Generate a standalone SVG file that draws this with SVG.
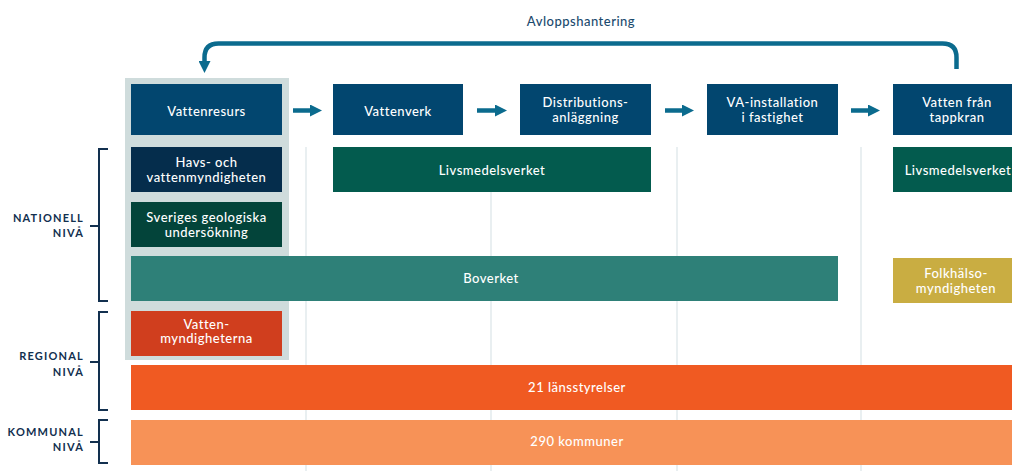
<svg xmlns="http://www.w3.org/2000/svg" width="1012" height="471" viewBox="0 0 1012 471">
<defs>
<marker id="ah" markerUnits="userSpaceOnUse" markerWidth="12" markerHeight="12" refX="0" refY="6" orient="auto" viewBox="0 0 12 12">
<path d="M0,0 L12,6 L0,12 Z" fill="#0b6b8e"/>
</marker>
</defs>
<style>
.t{font-family:Lato,"Noto Sans",sans-serif;font-size:13px;font-weight:500;fill:#ffffff;text-anchor:middle;letter-spacing:0.5px}
.lv{font-family:Lato,"Noto Sans",sans-serif;font-size:11px;font-weight:700;fill:#12304f;text-anchor:end;letter-spacing:1.2px}
.grid{stroke:#d3dfe3;stroke-width:1}
.br{fill:none;stroke:#12304f;stroke-width:2}
.flow{fill:#02466f}
.ar{stroke:#0b6b8e;stroke-width:4.5;fill:none}
</style>
<rect width="1012" height="471" fill="#ffffff"/>
<g id="grid">
<line class="grid" x1="306" y1="147" x2="306" y2="471"/>
<line class="grid" x1="491" y1="147" x2="491" y2="471"/>
<line class="grid" x1="677" y1="147" x2="677" y2="471"/>
<line class="grid" x1="861" y1="147" x2="861" y2="471"/>
</g>
<g id="panel"><rect x="125" y="78" width="164" height="282" fill="#cfdcdc"/></g>
<g id="avlopp-label"><text x="581" y="26" font-family="Lato,'Noto Sans',sans-serif" font-size="13" font-weight="500" fill="#1b4a6e" text-anchor="middle" letter-spacing="0.5">Avloppshantering</text></g>
<g id="connectors">
<path class="ar" d="M956.5,69 V57.5 Q956.5,43.5 942.5,43.5 H218.5 Q204.5,43.5 204.5,57.5 V61" marker-end="url(#ah)"/>
<line class="ar" x1="293" y1="110.5" x2="310" y2="110.5" marker-end="url(#ah)"/>
<line class="ar" x1="477" y1="110.5" x2="495" y2="110.5" marker-end="url(#ah)"/>
<line class="ar" x1="665" y1="110.5" x2="682" y2="110.5" marker-end="url(#ah)"/>
<line class="ar" x1="851" y1="110.5" x2="868" y2="110.5" marker-end="url(#ah)"/>
</g>
<g id="vattenresurs"><rect class="flow" x="131" y="84" width="151" height="51"/><text class="t" x="206.5" y="116">Vattenresurs</text></g>
<g id="vattenverk"><rect class="flow" x="333" y="84" width="130" height="51"/><text class="t" x="398" y="116">Vattenverk</text></g>
<g id="distribution"><rect class="flow" x="520" y="84" width="131" height="51"/><text class="t" x="585.5" y="107">Distributions-</text><text class="t" x="585.5" y="122">anläggning</text></g>
<g id="va-installation"><rect class="flow" x="707" y="84" width="131" height="51"/><text class="t" x="772.5" y="107">VA-installation</text><text class="t" x="772.5" y="122">i fastighet</text></g>
<g id="tappkran"><rect class="flow" x="893" y="84" width="130" height="51"/><text class="t" x="957" y="107">Vatten från</text><text class="t" x="957" y="122">tappkran</text></g>
<g id="havs"><rect x="131" y="147" width="151" height="45" fill="#052d4c"/><text class="t" x="206.5" y="167">Havs- och</text><text class="t" x="206.5" y="181.5">vattenmyndigheten</text></g>
<g id="livsmedel1"><rect x="333" y="147" width="318" height="45" fill="#035b4e"/><text class="t" x="492" y="174.5">Livsmedelsverket</text></g>
<g id="livsmedel2"><rect x="893" y="147" width="130" height="45" fill="#035b4e"/><text class="t" x="958" y="174.5">Livsmedelsverket</text></g>
<g id="sgu"><rect x="131" y="202" width="151" height="45" fill="#03443a"/><text class="t" x="206.5" y="222">Sveriges geologiska</text><text class="t" x="206.5" y="236.5">undersökning</text></g>
<g id="boverket"><rect x="131" y="256" width="707" height="45" fill="#2e8078"/><text class="t" x="491" y="283">Boverket</text></g>
<g id="folkhalsa"><rect x="893" y="258" width="130" height="45" fill="#c9ad42"/><text class="t" x="956" y="278">Folkhälso-</text><text class="t" x="956" y="292.5">myndigheten</text></g>
<g id="vattenmyndigheterna"><rect x="131" y="311" width="151" height="45" fill="#d03e1e"/><text class="t" x="206.5" y="328.5">Vatten-</text><text class="t" x="206.5" y="343">myndigheterna</text></g>
<g id="lansstyrelser"><rect x="131" y="365" width="892" height="45" fill="#f05a22"/><text class="t" x="577" y="392">21 länsstyrelser</text></g>
<g id="kommuner"><rect x="131" y="420" width="892" height="45" fill="#f79257"/><text class="t" x="577" y="446">290 kommuner</text></g>
<g id="nationell">
<path class="br" d="M108,149 H99 V301 H108 M99,226 H90"/>
<text class="lv" x="84" y="221.5">NATIONELL</text><text class="lv" x="84" y="237">NIVÅ</text>
</g>
<g id="regional">
<path class="br" d="M108,312 H99 V410 H108 M99,362 H90"/>
<text class="lv" x="84" y="360">REGIONAL</text><text class="lv" x="84" y="375.5">NIVÅ</text>
</g>
<g id="kommunal">
<path class="br" d="M108,420 H99 V463 H108 M99,442 H90"/>
<text class="lv" x="84" y="436">KOMMUNAL</text><text class="lv" x="84" y="451">NIVÅ</text>
</g>
</svg>
